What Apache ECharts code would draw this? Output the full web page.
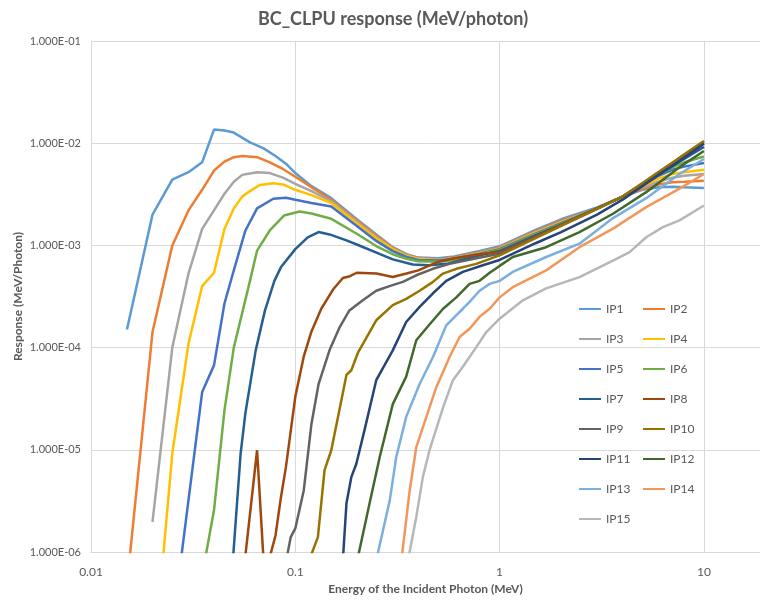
<!DOCTYPE html>
<html>
<head>
<meta charset="utf-8">
<script src="https://cdn.jsdelivr.net/npm/echarts@6/dist/echarts.min.js"></script>
<style>
html,body{margin:0;padding:0;background:#fff;}
#chart{width:760px;height:604px;}
</style>
</head>
<body>
<div id="chart"></div>
<script>
// ---- data: [energy (MeV), response (MeV/photon)] ----
const seriesNames = ['IP1','IP2','IP3','IP4','IP5','IP6','IP7','IP8','IP9','IP10','IP11','IP12','IP13','IP14','IP15'];
const seriesColors = ['#5B9BD5','#ED7D31','#A5A5A5','#FFC000','#4472C4','#70AD47','#255E91','#9E480E','#636363','#997300','#264478','#43682B','#7CAFDD','#F1975A','#B7B7B7'];

const ip1 = [[0.015,1.5e-4],[0.02,2.0e-3],[0.025,4.4e-3],[0.03,5.2e-3],[0.035,6.5e-3],[0.04,1.36e-2],[0.045,1.33e-2],[0.05,1.27e-2],[0.06,1.02e-2],[0.07,8.9e-3],[0.08,7.5e-3],[0.09,6.3e-3],[0.1,5.1e-3],[0.12,3.8e-3],[0.15,2.9e-3],[0.2,1.8e-3],[0.25,1.27e-3],[0.3,9.6e-4],[0.35,8.2e-4],[0.4,7.6e-4],[0.5,7.5e-4],[0.6,7.8e-4],[0.8,8.8e-4],[1,9.8e-4],[1.5,1.42e-3],[2,1.8e-3],[3,2.35e-3],[4,3.0e-3],[5,3.5e-3],[6,3.7e-3],[7,3.75e-3],[8,3.7e-3],[10,3.65e-3]];
const ip2 = [[0.015,4.8e-7],[0.02,1.42e-4],[0.025,1.0e-3],[0.03,2.2e-3],[0.035,3.5e-3],[0.04,5.4e-3],[0.045,6.6e-3],[0.05,7.3e-3],[0.055,7.5e-3],[0.065,7.3e-3],[0.075,6.5e-3],[0.087,5.6e-3],[0.1,4.7e-3],[0.12,3.7e-3],[0.15,2.8e-3],[0.2,1.75e-3],[0.25,1.24e-3],[0.3,9.5e-4],[0.35,8.1e-4],[0.4,7.5e-4],[0.5,7.3e-4],[0.6,7.6e-4],[0.8,8.6e-4],[1,9.6e-4],[1.5,1.38e-3],[2,1.75e-3],[3,2.3e-3],[4,3.0e-3],[5,3.55e-3],[6,3.95e-3],[7,4.15e-3],[8,4.2e-3],[10,4.3e-3]];
const ip3 = [[0.02,1.97e-6],[0.025,1.0e-4],[0.03,5.3e-4],[0.035,1.45e-3],[0.04,2.2e-3],[0.045,3.2e-3],[0.05,4.2e-3],[0.055,4.9e-3],[0.065,5.2e-3],[0.075,5.1e-3],[0.087,4.6e-3],[0.1,4.0e-3],[0.12,3.4e-3],[0.15,2.7e-3],[0.2,1.7e-3],[0.25,1.2e-3],[0.3,9.3e-4],[0.35,8.0e-4],[0.4,7.4e-4],[0.5,7.2e-4],[0.6,7.5e-4],[0.8,8.5e-4],[1,9.4e-4],[1.5,1.35e-3],[2,1.7e-3],[3,2.3e-3],[4,3.0e-3],[5,3.7e-3],[6,4.2e-3],[7,4.6e-3],[8,4.8e-3],[10,5.0e-3]];
const ip4 = [[0.02,6e-8],[0.025,9.2e-6],[0.03,1.09e-4],[0.035,4.0e-4],[0.04,5.4e-4],[0.045,1.45e-3],[0.05,2.3e-3],[0.055,3.0e-3],[0.06,3.4e-3],[0.067,3.9e-3],[0.078,4.05e-3],[0.087,3.95e-3],[0.1,3.5e-3],[0.12,3.1e-3],[0.15,2.6e-3],[0.2,1.65e-3],[0.25,1.17e-3],[0.3,9.2e-4],[0.35,7.9e-4],[0.4,7.4e-4],[0.5,7.2e-4],[0.6,7.5e-4],[0.8,8.4e-4],[1,9.3e-4],[1.5,1.33e-3],[2,1.68e-3],[3,2.3e-3],[4,3.0e-3],[5,3.8e-3],[6,4.5e-3],[7,5.0e-3],[8,5.2e-3],[10,5.5e-3]];
const ip5 = [[0.025,1.8e-7],[0.035,3.67e-5],[0.04,6.7e-5],[0.045,2.7e-4],[0.05,5.7e-4],[0.057,1.4e-3],[0.065,2.3e-3],[0.078,2.86e-3],[0.09,2.93e-3],[0.1,2.8e-3],[0.12,2.6e-3],[0.15,2.4e-3],[0.2,1.55e-3],[0.25,1.1e-3],[0.3,8.8e-4],[0.35,7.7e-4],[0.4,7.2e-4],[0.5,7.1e-4],[0.6,7.4e-4],[0.8,8.3e-4],[1,9.2e-4],[1.5,1.3e-3],[2,1.65e-3],[3,2.3e-3],[4,3.0e-3],[5,3.9e-3],[6,4.8e-3],[7,5.5e-3],[8,5.9e-3],[10,6.4e-3]];
const ip6 = [[0.035,5.9e-7],[0.04,2.56e-6],[0.045,2.43e-5],[0.05,1.0e-4],[0.06,4.5e-4],[0.065,8.9e-4],[0.075,1.4e-3],[0.088,1.96e-3],[0.105,2.15e-3],[0.12,2.05e-3],[0.15,1.82e-3],[0.2,1.3e-3],[0.25,9.8e-4],[0.3,8.2e-4],[0.35,7.4e-4],[0.4,7.0e-4],[0.5,6.9e-4],[0.6,7.2e-4],[0.8,8.2e-4],[1,9.0e-4],[1.5,1.28e-3],[2,1.62e-3],[3,2.3e-3],[4,3.0e-3],[5,3.95e-3],[6,4.9e-3],[7,5.8e-3],[8,6.5e-3],[10,7.4e-3]];
const ip7 = [[0.047,2e-7],[0.054,9.2e-6],[0.057,2.3e-5],[0.064,9.4e-5],[0.071,2.3e-4],[0.079,4.5e-4],[0.085,6.1e-4],[0.1,9.2e-4],[0.115,1.2e-3],[0.13,1.35e-3],[0.147,1.28e-3],[0.178,1.12e-3],[0.2,1.02e-3],[0.26,8.2e-4],[0.3,7.3e-4],[0.376,6.5e-4],[0.45,6.4e-4],[0.55,6.6e-4],[0.8,8.0e-4],[1,8.8e-4],[1.5,1.25e-3],[2,1.6e-3],[3,2.3e-3],[4,3.0e-3],[5,3.93e-3],[6,4.92e-3],[7,5.95e-3],[8,7.0e-3],[10,9.2e-3]];
const ip8 = [[0.055,4.9e-7],[0.065,9.9e-6],[0.07,8e-7],[0.075,8.9e-7],[0.08,1.45e-6],[0.085,3.4e-6],[0.09,6.8e-6],[0.1,3.3e-5],[0.11,8.2e-5],[0.12,1.44e-4],[0.134,2.4e-4],[0.153,3.7e-4],[0.171,4.8e-4],[0.185,5.0e-4],[0.2,5.4e-4],[0.25,5.3e-4],[0.3,4.9e-4],[0.35,5.3e-4],[0.4,5.7e-4],[0.45,6.3e-4],[0.5,6.9e-4],[0.6,7.5e-4],[0.8,8.2e-4],[1,8.6e-4],[1.5,1.22e-3],[2,1.58e-3],[3,2.3e-3],[4,3.0e-3],[5,4.05e-3],[6,5.2e-3],[7,6.4e-3],[8,7.7e-3],[10,1.04e-2]];
const ip9 = [[0.09,8e-7],[0.095,1.4e-6],[0.1,1.7e-6],[0.11,4.0e-6],[0.12,1.8e-5],[0.13,4.4e-5],[0.147,9.4e-5],[0.165,1.59e-4],[0.184,2.31e-4],[0.214,2.9e-4],[0.249,3.6e-4],[0.289,4.0e-4],[0.336,4.4e-4],[0.391,5.1e-4],[0.471,5.9e-4],[0.569,6.6e-4],[0.828,7.7e-4],[1,8.3e-4],[1.5,1.2e-3],[2,1.56e-3],[3,2.28e-3],[4,3.0e-3],[5,4.0e-3],[6,5.15e-3],[7,6.3e-3],[8,7.5e-3],[10,1.0e-2]];
const ip10 = [[0.115,7.6e-7],[0.129,1.4e-6],[0.139,6.3e-6],[0.15,9.9e-6],[0.178,5.4e-5],[0.188,6.0e-5],[0.203,9.0e-5],[0.249,1.85e-4],[0.3,2.6e-4],[0.349,3.0e-4],[0.406,3.6e-4],[0.472,4.4e-4],[0.528,5.3e-4],[0.614,5.9e-4],[0.769,6.6e-4],[1,8.0e-4],[1.5,1.18e-3],[2,1.55e-3],[3,2.28e-3],[4,3.0e-3],[5,4.05e-3],[6,5.22e-3],[7,6.43e-3],[8,7.74e-3],[10,1.05e-2]];
const ip11 = [[0.17,7e-7],[0.178,3.0e-6],[0.188,5.4e-6],[0.199,7.3e-6],[0.218,1.55e-5],[0.249,4.8e-5],[0.3,9.4e-5],[0.349,1.78e-4],[0.406,2.5e-4],[0.472,3.4e-4],[0.548,4.5e-4],[0.661,5.5e-4],[0.828,6.4e-4],[1,7.2e-4],[1.5,1.05e-3],[2,1.35e-3],[3,2.0e-3],[4,2.8e-3],[5,3.8e-3],[6,4.9e-3],[7,6.0e-3],[8,7.2e-3],[10,9.9e-3]];
const ip12 = [[0.2,7.9e-7],[0.231,3.0e-6],[0.259,8.5e-6],[0.3,2.8e-5],[0.349,5.2e-5],[0.391,1.18e-4],[0.457,1.71e-4],[0.529,2.4e-4],[0.614,3.1e-4],[0.713,4.2e-4],[0.798,4.5e-4],[0.894,5.4e-4],[1,6.3e-4],[1.16,7.7e-4],[1.69,9.6e-4],[2.46,1.35e-3],[3.59,2.04e-3],[5.22,3.32e-3],[7.6,5.83e-3],[10,8.4e-3]];
const ip13 = [[0.25,8.6e-7],[0.29,3.2e-6],[0.312,8.5e-6],[0.349,2.1e-5],[0.406,4.4e-5],[0.472,8.1e-5],[0.548,1.65e-4],[0.591,1.92e-4],[0.661,2.4e-4],[0.713,2.8e-4],[0.798,3.6e-4],[0.894,4.2e-4],[1,4.5e-4],[1.16,5.5e-4],[1.69,7.7e-4],[2.46,1.04e-3],[3.59,1.85e-3],[5.22,2.9e-3],[7.6,5.0e-3],[10,7.0e-3]];
const ip14 = [[0.33,8e-7],[0.363,4.0e-6],[0.391,1.06e-5],[0.438,2.1e-5],[0.49,4.1e-5],[0.569,8.1e-5],[0.637,1.27e-4],[0.713,1.53e-4],[0.798,2.0e-4],[0.894,2.4e-4],[1,3.1e-4],[1.16,3.9e-4],[1.69,5.7e-4],[2.46,9.6e-4],[3.59,1.46e-3],[5.22,2.37e-3],[7.6,3.59e-3],[10,5.0e-3]];
const ip15 = [[0.355,8e-7],[0.391,2.2e-6],[0.421,5.4e-6],[0.454,9.9e-6],[0.529,2.6e-5],[0.591,4.8e-5],[0.661,6.5e-5],[0.769,1.01e-4],[0.861,1.42e-4],[1,1.92e-4],[1.3,2.9e-4],[1.69,3.8e-4],[2.46,4.9e-4],[3.59,7.1e-4],[4.33,8.6e-4],[5.22,1.2e-3],[6.3,1.51e-3],[7.6,1.76e-3],[10,2.46e-3]];

const seriesData = [ip1,ip2,ip3,ip4,ip5,ip6,ip7,ip8,ip9,ip10,ip11,ip12,ip13,ip14,ip15];

const xMin = 0.01, xMax = 18.82;
const yMin = 1e-6, yMax = 1e-1;

const FONT = "Lato, 'Open Sans', sans-serif";
const GREY = '#595959';

function sciLabel(v){
  const e = Math.round(Math.log10(v));
  const m = v / Math.pow(10, e);
  return m.toFixed(3) + 'E' + (e < 0 ? '-' : '+') + String(Math.abs(e)).padStart(2, '0');
}
function xLabel(v){
  const e = Math.round(Math.log10(v));
  return e < 0 ? v.toFixed(-e) : String(Math.round(v));
}

const chart = echarts.init(document.getElementById('chart'), null, {renderer:'canvas'});

const legendCommon = {
  orient: 'vertical',
  top: 303,
  padding: 0,
  itemWidth: 22,
  itemHeight: 14,
  itemGap: 18,
  itemStyle: {opacity: 0},
  textStyle: {color: GREY, fontSize: 12, fontFamily: FONT},
  selectedMode: false
};

chart.setOption({
  animation: false,
  backgroundColor: '#fff',
  title: {
    text: 'BC_CLPU response (MeV/photon)',
    left: 388,
    textAlign: 'center',
    top: 5,
    textStyle: {color: GREY, fontSize: 18, fontWeight: 'bold', fontFamily: FONT}
  },
  legend: [
    Object.assign({left: 578, data: seriesNames.filter((n, i) => i % 2 === 0)}, legendCommon),
    Object.assign({left: 642, data: seriesNames.filter((n, i) => i % 2 === 1)}, legendCommon)
  ],
  grid: {left: 91, top: 41, right: 0, bottom: 52, containLabel: false},
  xAxis: {
    type: 'log',
    logBase: 10,
    min: xMin,
    max: xMax,
    name: 'Energy of the Incident Photon (MeV)',
    nameLocation: 'middle',
    nameGap: 31,
    nameTextStyle: {color: GREY, fontSize: 12, fontWeight: 'bold', fontFamily: FONT},
    axisLine: {show: true, lineStyle: {color: '#D9D9D9', width: 1}},
    axisTick: {show: false},
    axisLabel: {color: GREY, fontSize: 12, fontFamily: FONT, margin: 14, formatter: xLabel, showMaxLabel: false},
    splitLine: {show: true, lineStyle: {color: '#D9D9D9', width: 1}},
    minorTick: {show: false}
  },
  yAxis: {
    type: 'log',
    logBase: 10,
    min: yMin,
    max: yMax,
    name: 'Response (MeV/Photon)',
    nameLocation: 'middle',
    nameGap: 67,
    nameMoveOverlap: false,
    nameRotate: 90,
    nameTextStyle: {color: GREY, fontSize: 12, fontWeight: 'bold', fontFamily: FONT},
    axisLine: {show: true, lineStyle: {color: '#D9D9D9', width: 1}},
    axisTick: {show: false},
    axisLabel: {color: GREY, fontSize: 11, fontFamily: FONT, margin: 10, formatter: sciLabel},
    splitLine: {show: true, lineStyle: {color: '#D9D9D9', width: 1}}
  },
  series: seriesNames.map((name, i) => ({
    name: name,
    type: 'line',
    data: seriesData[i],
    symbol: 'none',
    showSymbol: false,
    clip: true,
    color: seriesColors[i],
    lineStyle: {color: seriesColors[i], width: 2.5},
    emphasis: {disabled: true}
  }))
});
</script>
</body>
</html>
